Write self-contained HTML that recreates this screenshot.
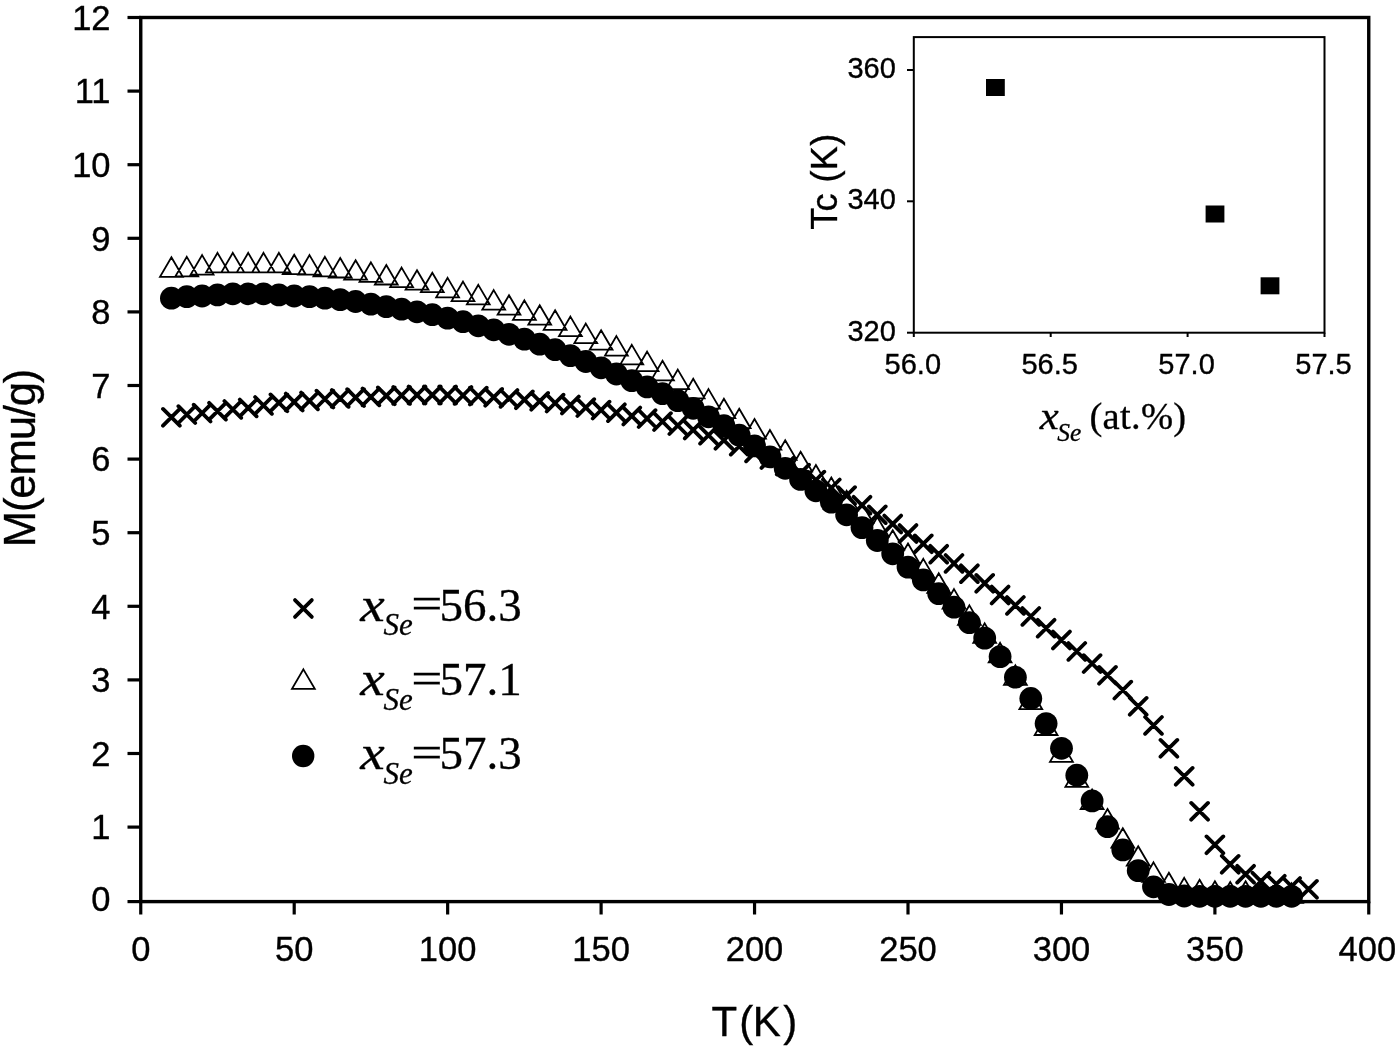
<!DOCTYPE html>
<html lang="en"><head><meta charset="utf-8"><title>M(T) curves</title>
<style>html,body{margin:0;padding:0;background:#fff}svg{display:block}.s{font-family:"Liberation Sans",Arial,sans-serif;fill:#000;stroke:#000;stroke-width:0.35px}.r{font-family:"Liberation Serif","Times New Roman",serif;fill:#000;stroke:#000;stroke-width:0.3px}</style></head><body>
<svg width="1400" height="1049" viewBox="0 0 1400 1049">
<rect width="1400" height="1049" fill="#fff"/>
<path id="series-x" stroke="#000" stroke-width="3.8" stroke-linecap="round" fill="none" d="M163.0 408.9L179.8 425.7M163.0 425.7L179.8 408.9M178.4 406.2L195.2 423.0M178.4 423.0L195.2 406.2M193.7 404.7L210.5 421.5M193.7 421.5L210.5 404.7M209.1 402.8L225.9 419.6M209.1 419.6L225.9 402.8M224.4 401.0L241.2 417.8M224.4 417.8L241.2 401.0M239.8 399.5L256.6 416.3M239.8 416.3L256.6 399.5M255.1 397.0L271.9 413.8M255.1 413.8L271.9 397.0M270.5 394.4L287.3 411.2M270.5 411.2L287.3 394.4M285.8 393.6L302.6 410.4M285.8 410.4L302.6 393.6M301.1 392.5L317.9 409.3M301.1 409.3L317.9 392.5M316.5 390.7L333.3 407.5M316.5 407.5L333.3 390.7M331.8 390.0L348.6 406.8M331.8 406.8L348.6 390.0M347.2 389.2L364.0 406.0M347.2 406.0L364.0 389.2M362.5 388.5L379.3 405.3M362.5 405.3L379.3 388.5M377.9 387.4L394.7 404.2M377.9 404.2L394.7 387.4M393.2 387.0L410.0 403.8M393.2 403.8L410.0 387.0M408.6 386.6L425.4 403.4M408.6 403.4L425.4 386.6M423.9 386.6L440.7 403.4M423.9 403.4L440.7 386.6M439.2 386.6L456.0 403.4M439.2 403.4L456.0 386.6M454.6 387.0L471.4 403.8M454.6 403.8L471.4 387.0M469.9 387.7L486.7 404.5M469.9 404.5L486.7 387.7M485.3 388.9L502.1 405.7M485.3 405.7L502.1 388.9M500.6 390.0L517.4 406.8M500.6 406.8L517.4 390.0M516.0 391.4L532.8 408.2M516.0 408.2L532.8 391.4M531.3 392.9L548.1 409.7M531.3 409.7L548.1 392.9M546.7 394.7L563.5 411.5M546.7 411.5L563.5 394.7M562.0 396.6L578.8 413.4M562.0 413.4L578.8 396.6M577.4 399.2L594.2 416.0M577.4 416.0L594.2 399.2M592.7 401.7L609.5 418.5M592.7 418.5L609.5 401.7M608.0 404.3L624.8 421.1M608.0 421.1L624.8 404.3M623.4 407.6L640.2 424.4M623.4 424.4L640.2 407.6M638.7 410.2L655.5 427.0M638.7 427.0L655.5 410.2M654.1 413.2L670.9 430.0M654.1 430.0L670.9 413.2M669.4 417.2L686.2 434.0M669.4 434.0L686.2 417.2M684.8 421.6L701.6 438.4M684.8 438.4L701.6 421.6M700.1 426.8L716.9 443.6M700.1 443.6L716.9 426.8M715.5 431.9L732.3 448.7M715.5 448.7L732.3 431.9M730.8 437.8L747.6 454.6M730.8 454.6L747.6 437.8M746.1 444.5L762.9 461.3M746.1 461.3L762.9 444.5M761.5 451.1L778.3 467.9M761.5 467.9L778.3 451.1M776.8 457.7L793.6 474.5M776.8 474.5L793.6 457.7M792.2 464.7L809.0 481.5M792.2 481.5L809.0 464.7M807.5 471.7L824.3 488.5M807.5 488.5L824.3 471.7M822.9 479.5L839.7 496.3M822.9 496.3L839.7 479.5M838.2 487.2L855.0 504.0M838.2 504.0L855.0 487.2M853.6 496.8L870.4 513.6M853.6 513.6L870.4 496.8M868.9 506.4L885.7 523.1M868.9 523.1L885.7 506.4M884.3 515.6L901.1 532.4M884.3 532.4L901.1 515.6M899.6 525.1L916.4 541.9M899.6 541.9L916.4 525.1M914.9 535.4L931.7 552.2M914.9 552.2L931.7 535.4M930.3 545.8L947.1 562.6M930.3 562.6L947.1 545.8M945.6 555.0L962.4 571.8M945.6 571.8L962.4 555.0M961.0 565.3L977.8 582.1M961.0 582.1L977.8 565.3M976.3 574.9L993.1 591.7M976.3 591.7L993.1 574.9M991.7 586.6L1008.5 603.4M991.7 603.4L1008.5 586.6M1007.0 597.0L1023.8 613.8M1007.0 613.8L1023.8 597.0M1022.4 608.0L1039.2 624.8M1022.4 624.8L1039.2 608.0M1037.7 619.8L1054.5 636.6M1037.7 636.6L1054.5 619.8M1053.0 631.6L1069.9 648.4M1053.0 648.4L1069.9 631.6M1068.4 643.0L1085.2 659.8M1068.4 659.8L1085.2 643.0M1083.7 655.2L1100.5 672.0M1083.7 672.0L1100.5 655.2M1099.1 666.9L1115.9 683.7M1099.1 683.7L1115.9 666.9M1114.4 681.7L1131.2 698.5M1114.4 698.5L1131.2 681.7M1129.8 697.9L1146.6 714.7M1129.8 714.7L1146.6 697.9M1145.1 717.0L1161.9 733.8M1145.1 733.8L1161.9 717.0M1160.5 739.9L1177.3 756.7M1160.5 756.7L1177.3 739.9M1175.8 767.9L1192.6 784.7M1175.8 784.7L1192.6 767.9M1191.2 802.9L1208.0 819.7M1191.2 819.7L1208.0 802.9M1206.5 836.4L1223.3 853.2M1206.5 853.2L1223.3 836.4M1221.8 855.9L1238.6 872.7M1221.8 872.7L1238.6 855.9M1237.2 865.8L1254.0 882.6M1237.2 882.6L1254.0 865.8M1252.5 872.8L1269.3 889.6M1252.5 889.6L1269.3 872.8M1267.9 875.8L1284.7 892.6M1267.9 892.6L1284.7 875.8M1283.2 878.0L1300.0 894.8M1283.2 894.8L1300.0 878.0M1300.1 880.9L1316.9 897.7M1300.1 897.7L1316.9 880.9"/>
<path id="series-t" stroke="#000" stroke-width="1.8" fill="none" stroke-linejoin="miter" d="M171.4 257.3L182.8 276.8L160.0 276.8ZM186.8 256.9L198.2 276.4L175.4 276.4ZM202.1 255.1L213.5 274.6L190.7 274.6ZM217.5 252.9L228.9 272.4L206.1 272.4ZM232.8 252.9L244.2 272.4L221.4 272.4ZM248.2 252.9L259.6 272.4L236.8 272.4ZM263.5 252.9L274.9 272.4L252.1 272.4ZM278.9 252.9L290.3 272.4L267.5 272.4ZM294.2 254.7L305.6 274.2L282.8 274.2ZM309.5 255.1L320.9 274.6L298.1 274.6ZM324.9 256.9L336.3 276.4L313.5 276.4ZM340.2 258.0L351.6 277.5L328.8 277.5ZM355.6 260.2L367.0 279.7L344.2 279.7ZM370.9 262.4L382.3 281.9L359.5 281.9ZM386.3 265.0L397.7 284.5L374.9 284.5ZM401.6 267.6L413.0 287.1L390.2 287.1ZM417.0 270.2L428.4 289.7L405.6 289.7ZM432.3 272.7L443.7 292.2L420.9 292.2ZM447.6 277.9L459.0 297.4L436.2 297.4ZM463.0 281.6L474.4 301.1L451.6 301.1ZM478.3 284.9L489.7 304.4L466.9 304.4ZM493.7 290.1L505.1 309.6L482.3 309.6ZM509.0 295.2L520.4 314.7L497.6 314.7ZM524.4 300.4L535.8 319.9L513.0 319.9ZM539.7 305.2L551.1 324.7L528.3 324.7ZM555.1 310.3L566.5 329.8L543.7 329.8ZM570.4 316.6L581.8 336.1L559.0 336.1ZM585.8 323.6L597.2 343.1L574.4 343.1ZM601.1 330.2L612.5 349.7L589.7 349.7ZM616.4 336.1L627.8 355.6L605.0 355.6ZM631.8 344.9L643.2 364.4L620.4 364.4ZM647.1 351.6L658.5 371.1L635.7 371.1ZM662.5 360.8L673.9 380.3L651.1 380.3ZM677.8 369.6L689.2 389.1L666.4 389.1ZM693.2 378.8L704.6 398.3L681.8 398.3ZM708.5 389.1L719.9 408.6L697.1 408.6ZM723.9 398.7L735.3 418.2L712.5 418.2ZM739.2 408.7L750.6 428.2L727.8 428.2ZM754.5 419.0L765.9 438.5L743.1 438.5ZM769.9 430.0L781.3 449.5L758.5 449.5ZM785.2 440.3L796.6 459.8L773.8 459.8ZM800.6 451.8L812.0 471.3L789.2 471.3ZM815.9 465.0L827.3 484.5L804.5 484.5ZM831.3 477.5L842.7 497.0L819.9 497.0ZM846.6 490.8L858.0 510.3L835.2 510.3ZM862.0 503.7L873.4 523.2L850.6 523.2ZM877.3 517.0L888.7 536.5L865.9 536.5ZM892.7 530.2L904.1 549.7L881.3 549.7ZM908.0 543.5L919.4 563.0L896.6 563.0ZM923.3 558.9L934.7 578.4L911.9 578.4ZM938.7 573.3L950.1 592.8L927.3 592.8ZM954.0 589.1L965.4 608.6L942.6 608.6ZM969.4 605.4L980.8 624.9L958.0 624.9ZM984.7 623.4L996.1 642.9L973.3 642.9ZM1000.1 642.9L1011.5 662.4L988.7 662.4ZM1015.4 665.4L1026.8 684.9L1004.0 684.9ZM1030.8 689.7L1042.2 709.2L1019.4 709.2ZM1046.1 715.5L1057.5 735.0L1034.7 735.0ZM1061.5 742.4L1072.9 761.9L1050.0 761.9ZM1076.8 767.4L1088.2 786.9L1065.4 786.9ZM1092.1 789.5L1103.5 809.0L1080.7 809.0ZM1107.5 809.0L1118.9 828.5L1096.1 828.5ZM1122.8 828.2L1134.2 847.7L1111.4 847.7ZM1138.2 846.2L1149.6 865.7L1126.8 865.7ZM1153.5 862.4L1164.9 881.9L1142.1 881.9ZM1168.9 872.8L1180.3 892.3L1157.5 892.3ZM1184.2 877.9L1195.6 897.4L1172.8 897.4ZM1199.6 879.8L1211.0 899.3L1188.2 899.3ZM1214.9 881.2L1226.3 900.7L1203.5 900.7ZM1230.2 882.0L1241.6 901.5L1218.8 901.5ZM1245.6 881.2L1257.0 900.7L1234.2 900.7ZM1260.9 882.7L1272.3 902.2L1249.5 902.2ZM1276.3 883.4L1287.7 902.9L1264.9 902.9ZM1291.6 883.4L1303.0 902.9L1280.2 902.9Z"/>
<g id="series-c" fill="#000">
<circle cx="171.4" cy="298.2" r="11.4"/>
<circle cx="186.8" cy="296.7" r="11.4"/>
<circle cx="202.1" cy="296.0" r="11.4"/>
<circle cx="217.5" cy="294.9" r="11.4"/>
<circle cx="232.8" cy="293.8" r="11.4"/>
<circle cx="248.2" cy="293.8" r="11.4"/>
<circle cx="263.5" cy="293.8" r="11.4"/>
<circle cx="278.9" cy="294.9" r="11.4"/>
<circle cx="294.2" cy="296.0" r="11.4"/>
<circle cx="309.5" cy="296.7" r="11.4"/>
<circle cx="324.9" cy="298.2" r="11.4"/>
<circle cx="340.2" cy="299.6" r="11.4"/>
<circle cx="355.6" cy="301.5" r="11.4"/>
<circle cx="370.9" cy="304.1" r="11.4"/>
<circle cx="386.3" cy="306.6" r="11.4"/>
<circle cx="401.6" cy="309.2" r="11.4"/>
<circle cx="417.0" cy="311.8" r="11.4"/>
<circle cx="432.3" cy="314.7" r="11.4"/>
<circle cx="447.6" cy="318.1" r="11.4"/>
<circle cx="463.0" cy="321.7" r="11.4"/>
<circle cx="478.3" cy="325.8" r="11.4"/>
<circle cx="493.7" cy="329.8" r="11.4"/>
<circle cx="509.0" cy="334.3" r="11.4"/>
<circle cx="524.4" cy="339.1" r="11.4"/>
<circle cx="539.7" cy="344.2" r="11.4"/>
<circle cx="555.1" cy="349.7" r="11.4"/>
<circle cx="570.4" cy="355.6" r="11.4"/>
<circle cx="585.8" cy="361.5" r="11.4"/>
<circle cx="601.1" cy="367.8" r="11.4"/>
<circle cx="616.4" cy="374.0" r="11.4"/>
<circle cx="631.8" cy="380.7" r="11.4"/>
<circle cx="647.1" cy="386.9" r="11.4"/>
<circle cx="662.5" cy="393.6" r="11.4"/>
<circle cx="677.8" cy="400.6" r="11.4"/>
<circle cx="693.2" cy="408.3" r="11.4"/>
<circle cx="708.5" cy="416.8" r="11.4"/>
<circle cx="723.9" cy="425.6" r="11.4"/>
<circle cx="739.2" cy="435.2" r="11.4"/>
<circle cx="754.5" cy="445.9" r="11.4"/>
<circle cx="769.9" cy="456.9" r="11.4"/>
<circle cx="785.2" cy="468.3" r="11.4"/>
<circle cx="800.6" cy="479.4" r="11.4"/>
<circle cx="815.9" cy="490.8" r="11.4"/>
<circle cx="831.3" cy="502.2" r="11.4"/>
<circle cx="846.6" cy="514.8" r="11.4"/>
<circle cx="862.0" cy="527.6" r="11.4"/>
<circle cx="877.3" cy="540.5" r="11.4"/>
<circle cx="892.7" cy="553.8" r="11.4"/>
<circle cx="908.0" cy="567.1" r="11.4"/>
<circle cx="923.3" cy="579.9" r="11.4"/>
<circle cx="938.7" cy="593.6" r="11.4"/>
<circle cx="954.0" cy="607.2" r="11.4"/>
<circle cx="969.4" cy="622.7" r="11.4"/>
<circle cx="984.7" cy="638.1" r="11.4"/>
<circle cx="1000.1" cy="656.6" r="11.4"/>
<circle cx="1015.4" cy="677.2" r="11.4"/>
<circle cx="1030.8" cy="698.5" r="11.4"/>
<circle cx="1046.1" cy="723.6" r="11.4"/>
<circle cx="1061.5" cy="748.3" r="11.4"/>
<circle cx="1076.8" cy="775.2" r="11.4"/>
<circle cx="1092.1" cy="800.9" r="11.4"/>
<circle cx="1107.5" cy="826.7" r="11.4"/>
<circle cx="1122.8" cy="849.9" r="11.4"/>
<circle cx="1138.2" cy="870.6" r="11.4"/>
<circle cx="1153.5" cy="886.8" r="11.4"/>
<circle cx="1168.9" cy="894.5" r="11.4"/>
<circle cx="1184.2" cy="896.0" r="11.4"/>
<circle cx="1199.6" cy="896.3" r="11.4"/>
<circle cx="1214.9" cy="896.3" r="11.4"/>
<circle cx="1230.2" cy="896.3" r="11.4"/>
<circle cx="1245.6" cy="896.3" r="11.4"/>
<circle cx="1260.9" cy="896.3" r="11.4"/>
<circle cx="1276.3" cy="896.3" r="11.4"/>
<circle cx="1291.6" cy="896.3" r="11.4"/>
</g>
<rect x="140.75" y="17.5" width="1228.0" height="884.1" fill="none" stroke="#000" stroke-width="3.4"/>
<g stroke="#000" stroke-width="3.2" stroke-linecap="butt">
<line x1="127.5" y1="901.60" x2="140.75" y2="901.60"/>
<line x1="127.5" y1="827.10" x2="140.75" y2="827.10"/>
<line x1="127.5" y1="753.50" x2="140.75" y2="753.50"/>
<line x1="127.5" y1="679.90" x2="140.75" y2="679.90"/>
<line x1="127.5" y1="606.30" x2="140.75" y2="606.30"/>
<line x1="127.5" y1="532.70" x2="140.75" y2="532.70"/>
<line x1="127.5" y1="459.10" x2="140.75" y2="459.10"/>
<line x1="127.5" y1="385.50" x2="140.75" y2="385.50"/>
<line x1="127.5" y1="311.90" x2="140.75" y2="311.90"/>
<line x1="127.5" y1="238.30" x2="140.75" y2="238.30"/>
<line x1="127.5" y1="164.70" x2="140.75" y2="164.70"/>
<line x1="127.5" y1="91.10" x2="140.75" y2="91.10"/>
<line x1="127.5" y1="17.50" x2="140.75" y2="17.50"/>
<line x1="140.75" y1="901.6" x2="140.75" y2="914.5"/>
<line x1="294.20" y1="901.6" x2="294.20" y2="914.5"/>
<line x1="447.65" y1="901.6" x2="447.65" y2="914.5"/>
<line x1="601.10" y1="901.6" x2="601.10" y2="914.5"/>
<line x1="754.55" y1="901.6" x2="754.55" y2="914.5"/>
<line x1="908.00" y1="901.6" x2="908.00" y2="914.5"/>
<line x1="1061.45" y1="901.6" x2="1061.45" y2="914.5"/>
<line x1="1214.90" y1="901.6" x2="1214.90" y2="914.5"/>
<line x1="1368.75" y1="901.6" x2="1368.75" y2="914.5"/>
</g>
<g class="s" font-size="34.5">
<text x="110.5" y="911.0" text-anchor="end">0</text>
<text x="110.5" y="839.3" text-anchor="end">1</text>
<text x="110.5" y="765.7" text-anchor="end">2</text>
<text x="110.5" y="692.1" text-anchor="end">3</text>
<text x="110.5" y="618.5" text-anchor="end">4</text>
<text x="110.5" y="544.9" text-anchor="end">5</text>
<text x="110.5" y="471.3" text-anchor="end">6</text>
<text x="110.5" y="397.7" text-anchor="end">7</text>
<text x="110.5" y="324.1" text-anchor="end">8</text>
<text x="110.5" y="250.5" text-anchor="end">9</text>
<text x="110.5" y="176.9" text-anchor="end">10</text>
<text x="110.5" y="103.3" text-anchor="end">11</text>
<text x="110.5" y="29.7" text-anchor="end">12</text>
<text x="140.8" y="961" text-anchor="middle">0</text>
<text x="294.2" y="961" text-anchor="middle">50</text>
<text x="447.6" y="961" text-anchor="middle">100</text>
<text x="601.1" y="961" text-anchor="middle">150</text>
<text x="754.5" y="961" text-anchor="middle">200</text>
<text x="908.0" y="961" text-anchor="middle">250</text>
<text x="1061.5" y="961" text-anchor="middle">300</text>
<text x="1214.9" y="961" text-anchor="middle">350</text>
<text x="1367.4" y="961" text-anchor="middle">400</text>
</g>
<text class="s" font-size="42" x="713" y="1036" dx="-1.4 1.9 -0.5 2.7">T(K)</text>
<text class="s" font-size="43.7" letter-spacing="-1.2" transform="translate(35.2 547.2) rotate(-90)">M(emu/g)</text>
<path stroke="#000" stroke-width="3.8" stroke-linecap="round" fill="none" d="M295.0 600.1L311.8 616.9M295.0 616.9L311.8 600.1"/>
<path stroke="#000" stroke-width="1.8" fill="none" stroke-linejoin="miter" d="M303.4 669.4L314.8 688.9L292.0 688.9Z"/>
<circle cx="303.2" cy="756" r="11.2" fill="#000"/>
<text class="r" font-size="46" font-style="italic" transform="translate(360.3 620.5) scale(1.2 1.04)">x</text>
<text class="r" font-size="31" font-style="italic" x="383.6" y="635.1">Se</text>
<text class="r" font-size="46" transform="translate(411.2 619.2) scale(1.2 1)">=</text>
<text class="r" font-size="47" x="439.6" y="620.5">56.3</text>
<text class="r" font-size="46" font-style="italic" transform="translate(360.3 694.9) scale(1.2 1.04)">x</text>
<text class="r" font-size="31" font-style="italic" x="383.6" y="709.5">Se</text>
<text class="r" font-size="46" transform="translate(411.2 693.6) scale(1.2 1)">=</text>
<text class="r" font-size="47" x="439.6" y="694.9">57.1</text>
<text class="r" font-size="46" font-style="italic" transform="translate(360.3 769.3) scale(1.2 1.04)">x</text>
<text class="r" font-size="31" font-style="italic" x="383.6" y="783.9">Se</text>
<text class="r" font-size="46" transform="translate(411.2 768.0) scale(1.2 1)">=</text>
<text class="r" font-size="47" x="439.6" y="769.3">57.3</text>
<rect x="913.8" y="37.1" width="410.70000000000005" height="295.59999999999997" fill="#fff" stroke="#000" stroke-width="2"/>
<g stroke="#000" stroke-width="2">
<line x1="907" y1="332.7" x2="913.8" y2="332.7"/>
<line x1="907" y1="201.3" x2="913.8" y2="201.3"/>
<line x1="907" y1="70.0" x2="913.8" y2="70.0"/>
<line x1="913.8" y1="332.7" x2="913.8" y2="337"/>
<line x1="1050.7" y1="332.7" x2="1050.7" y2="337"/>
<line x1="1187.6" y1="332.7" x2="1187.6" y2="337"/>
<line x1="1324.5" y1="332.7" x2="1324.5" y2="337"/>
</g>
<g class="s" font-size="29">
<text x="895.8" y="340.5" text-anchor="end">320</text>
<text x="895.8" y="209.2" text-anchor="end">340</text>
<text x="895.8" y="77.8" text-anchor="end">360</text>
<text x="912.8" y="374.2" text-anchor="middle">56.0</text>
<text x="1049.7" y="374.2" text-anchor="middle">56.5</text>
<text x="1186.6" y="374.2" text-anchor="middle">57.0</text>
<text x="1323.5" y="374.2" text-anchor="middle">57.5</text>
</g>
<rect x="986.0" y="79.0" width="18.8" height="17" fill="#000"/>
<rect x="1205.6" y="205.5" width="18.8" height="17" fill="#000"/>
<rect x="1260.6" y="277.3" width="18.8" height="17" fill="#000"/>
<text class="s" font-size="36" letter-spacing="0.4" transform="translate(836.8 229.8) rotate(-90)">Tc (K)</text>
<text class="r" font-size="38" font-style="italic" transform="translate(1039.8 428.6) scale(1.13 1.02)">x</text>
<text class="r" font-size="25.5" font-style="italic" x="1057.3" y="440.6">Se</text>
<text class="r" font-size="38.6" letter-spacing="0.3" x="1089.4" y="428.7">(at.%)</text>
</svg></body></html>
